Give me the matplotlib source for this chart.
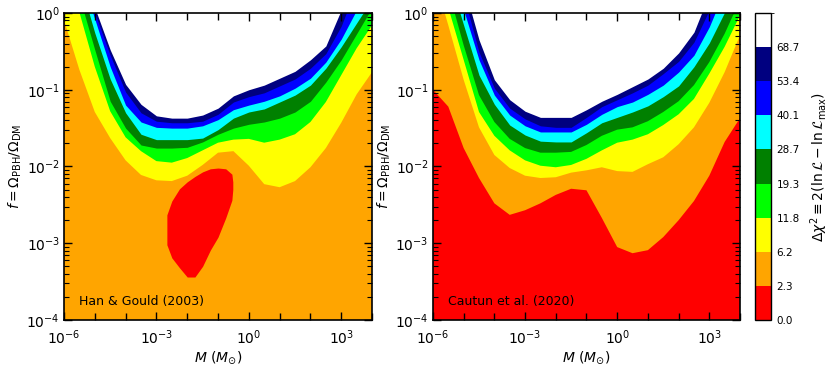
"""Likelihood maps of the PBH fraction f versus lens mass M for two datasets."""

import matplotlib.pyplot as plt
import numpy as np
from matplotlib.cm import ScalarMappable
from matplotlib.colors import BoundaryNorm, ListedColormap
from matplotlib.ticker import FixedLocator, LogLocator, NullFormatter

# Delta chi^2 levels and the colour of the band above each level
levels = [0.0, 2.3, 6.2, 11.8, 19.3, 28.7, 40.1, 53.4, 68.7]
level_colors = ["red", "orange", "yellow", "lime", "green", "cyan", "blue", "navy", "white"]

# log10(M / Msun) knots at which the contour boundaries were read
log_m = [-6.0, -5.5, -5.0, -4.5, -4.0, -3.5, -3.0, -2.5, -2.0, -1.5, -1.0,
         -0.5, 0.0, 0.5, 1.0, 1.5, 2.0, 2.5, 3.0, 3.5, 4.0]

# Han & Gould (2003): log10 f of the lower edge of each band (levels 6.2 ... 68.7)
hg_b62 = [-0.09, -0.74, -1.29, -1.63, -1.92, -2.11, -2.18, -2.19, -2.12, -1.98, -1.82,
          -1.80, -1.99, -2.23, -2.27, -2.19, -2.01, -1.76, -1.43, -1.06, -0.77]
hg_b118 = [0.70, 0.01, -0.70, -1.28, -1.62, -1.80, -1.93, -1.95, -1.89, -1.79, -1.69,
           -1.65, -1.64, -1.69, -1.65, -1.58, -1.42, -1.16, -0.81, -0.46, -0.16]
hg_b193 = [0.90, 0.21, -0.48, -1.15, -1.50, -1.72, -1.76, -1.76, -1.75, -1.68, -1.58,
           -1.50, -1.45, -1.42, -1.37, -1.29, -1.15, -0.90, -0.61, -0.27, 0.07]
hg_b287 = [1.10, 0.43, -0.26, -0.86, -1.30, -1.58, -1.65, -1.65, -1.65, -1.63, -1.52,
           -1.37, -1.29, -1.25, -1.16, -1.07, -0.94, -0.72, -0.44, -0.13, 0.18]
hg_b401 = [1.20, 0.55, -0.08, -0.70, -1.20, -1.42, -1.49, -1.50, -1.50, -1.47, -1.39,
           -1.26, -1.20, -1.15, -1.08, -0.98, -0.85, -0.64, -0.34, 0.04, 0.50]
hg_b534 = [1.25, 0.60, 0.00, -0.55, -1.03, -1.30, -1.41, -1.43, -1.43, -1.41, -1.32,
           -1.16, -1.09, -1.04, -0.95, -0.86, -0.72, -0.53, -0.17, 0.35, 0.80]
hg_b687 = [1.30, 0.65, 0.07, -0.48, -0.93, -1.19, -1.34, -1.37, -1.37, -1.33, -1.24,
           -1.08, -1.00, -0.94, -0.85, -0.76, -0.61, -0.43, 0.04, 0.50, 0.90]

# Han & Gould (2003): closed best-fit island (Delta chi^2 < 2.3)
island_log_m = [-2.66, -2.5, -2.25, -2.0, -1.75, -1.5, -1.25, -1.0, -0.75, -0.55, -0.52]
island_lo = [-3.02, -3.19, -3.32, -3.44, -3.44, -3.30, -3.09, -2.92, -2.67, -2.44, -2.30]
island_hi = [-2.63, -2.45, -2.29, -2.20, -2.13, -2.07, -2.03, -2.02, -2.03, -2.10, -2.20]

# Cautun et al. (2020): log10 f of the lower edge of each band (levels 2.3 ... 68.7)
ca_b23 = [-1.00, -1.22, -1.76, -2.15, -2.48, -2.63, -2.57, -2.48, -2.37, -2.29, -2.31,
          -2.67, -3.05, -3.13, -3.09, -2.92, -2.70, -2.45, -2.12, -1.68, -1.37]
ca_b62 = [0.53, -0.16, -0.87, -1.49, -1.85, -2.02, -2.12, -2.15, -2.14, -2.08, -2.05,
          -2.01, -2.06, -2.07, -1.97, -1.88, -1.71, -1.49, -1.17, -0.77, -0.29]
ca_b118 = [0.69, 0.07, -0.61, -1.29, -1.60, -1.79, -1.92, -1.99, -2.01, -1.98, -1.90,
           -1.79, -1.69, -1.65, -1.58, -1.46, -1.32, -1.12, -0.79, -0.44, -0.03]
ca_b193 = [0.89, 0.30, -0.42, -1.07, -1.42, -1.64, -1.76, -1.82, -1.82, -1.81, -1.72,
           -1.60, -1.52, -1.49, -1.41, -1.29, -1.15, -0.94, -0.64, -0.27, 0.17]
ca_b287 = [1.08, 0.50, -0.16, -0.81, -1.19, -1.46, -1.59, -1.67, -1.68, -1.68, -1.56,
           -1.43, -1.36, -1.29, -1.21, -1.09, -0.95, -0.70, -0.39, 0.01, 0.43]
ca_b401 = [1.21, 0.63, 0.04, -0.61, -1.07, -1.33, -1.47, -1.55, -1.55, -1.55, -1.45,
           -1.32, -1.22, -1.16, -1.06, -0.94, -0.77, -0.55, -0.18, 0.30, 0.69]
ca_b534 = [1.34, 0.76, 0.23, -0.51, -0.98, -1.24, -1.38, -1.47, -1.49, -1.49, -1.36,
           -1.22, -1.13, -1.04, -0.94, -0.79, -0.63, -0.38, 0.04, 0.50, 0.89]
ca_b687 = [1.47, 0.89, 0.36, -0.35, -0.87, -1.13, -1.28, -1.36, -1.36, -1.36, -1.26,
           -1.15, -1.06, -0.96, -0.86, -0.72, -0.52, -0.25, 0.25, 0.63, 1.02]

M_LIM = (1e-6, 1e4)
F_LIM = (1e-4, 1.0)
F_TOP = 1e3


def draw_bands(ax, base_color, bounds, colors):
    """Stack the bands: each colour fills from its lower edge up past the top."""
    m = 10.0 ** np.array(log_m)
    ax.fill_between(m, F_LIM[0], F_TOP, color=base_color, linewidth=0)
    for b, c in zip(bounds, colors):
        ax.fill_between(m, 10.0 ** np.array(b), F_TOP, color=c, linewidth=0)


def style_axes(ax, label):
    ax.set_xscale("log")
    ax.set_yscale("log")
    ax.set_xlim(*M_LIM)
    ax.set_ylim(*F_LIM)
    ax.xaxis.set_major_locator(FixedLocator([1e-6, 1e-3, 1e0, 1e3]))
    ax.xaxis.set_minor_locator(FixedLocator([1e-5, 1e-4, 1e-2, 1e-1, 1e1, 1e2, 1e4]))
    ax.xaxis.set_minor_formatter(NullFormatter())
    ax.yaxis.set_major_locator(LogLocator(base=10, numticks=10))
    ax.yaxis.set_minor_locator(LogLocator(base=10, subs=np.arange(2, 10), numticks=10))
    ax.yaxis.set_minor_formatter(NullFormatter())
    ax.tick_params(which="both", direction="in", top=True, right=True, labelsize=10)
    ax.tick_params(axis="x", which="major", length=6, width=1, pad=6)
    ax.tick_params(axis="x", which="minor", length=5, width=1)
    ax.tick_params(axis="y", which="major", length=6, width=1, pad=3)
    ax.tick_params(axis="y", which="minor", length=3.5, width=0.8)
    for s in ax.spines.values():
        s.set_linewidth(1.2)
    ax.set_xlabel(r"$M$ ($M_{\odot}$)", fontsize=10, labelpad=2)
    ax.set_ylabel(r"$f = \Omega_{\rm PBH}/\Omega_{\rm DM}$", fontsize=10, labelpad=2)
    ax.text(0.05, 0.05, label, transform=ax.transAxes, fontsize=9)


fig = plt.figure(figsize=(8.31, 3.66), dpi=100)
ax1 = fig.add_axes([0.077, 0.1257, 0.3707, 0.8388])
ax2 = fig.add_axes([0.521, 0.1257, 0.3695, 0.8388])
cax = fig.add_axes([0.9085, 0.1257, 0.0193, 0.8388])

# Han & Gould (2003)
draw_bands(ax1, "orange",
           [hg_b62, hg_b118, hg_b193, hg_b287, hg_b401, hg_b534, hg_b687],
           level_colors[2:])
ax1.fill_between(10.0 ** np.array(island_log_m), 10.0 ** np.array(island_lo),
                 10.0 ** np.array(island_hi), color="red", linewidth=0)
style_axes(ax1, "Han & Gould (2003)")

# Cautun et al. (2020)
draw_bands(ax2, "red",
           [ca_b23, ca_b62, ca_b118, ca_b193, ca_b287, ca_b401, ca_b534, ca_b687],
           level_colors[1:])
style_axes(ax2, "Cautun et al. (2020)")

# Colour bar with equally sized boxes; the white box sits above 68.7
cmap = ListedColormap(level_colors)
norm = BoundaryNorm(levels + [90.0], cmap.N)
cb = fig.colorbar(ScalarMappable(norm=norm, cmap=cmap), cax=cax,
                  ticks=levels, spacing="uniform")
cb.ax.set_yticklabels([f"{v:.1f}" for v in levels])
cb.ax.tick_params(labelsize=7.5, length=0, pad=4)
cb.outline.set_linewidth(1.0)
cb.set_label(r"$\Delta\chi^2 \equiv 2(\ln\mathcal{L} - \ln\mathcal{L}_{\rm max})$",
             fontsize=10, labelpad=6)

fig.savefig("out.png", dpi=100)
